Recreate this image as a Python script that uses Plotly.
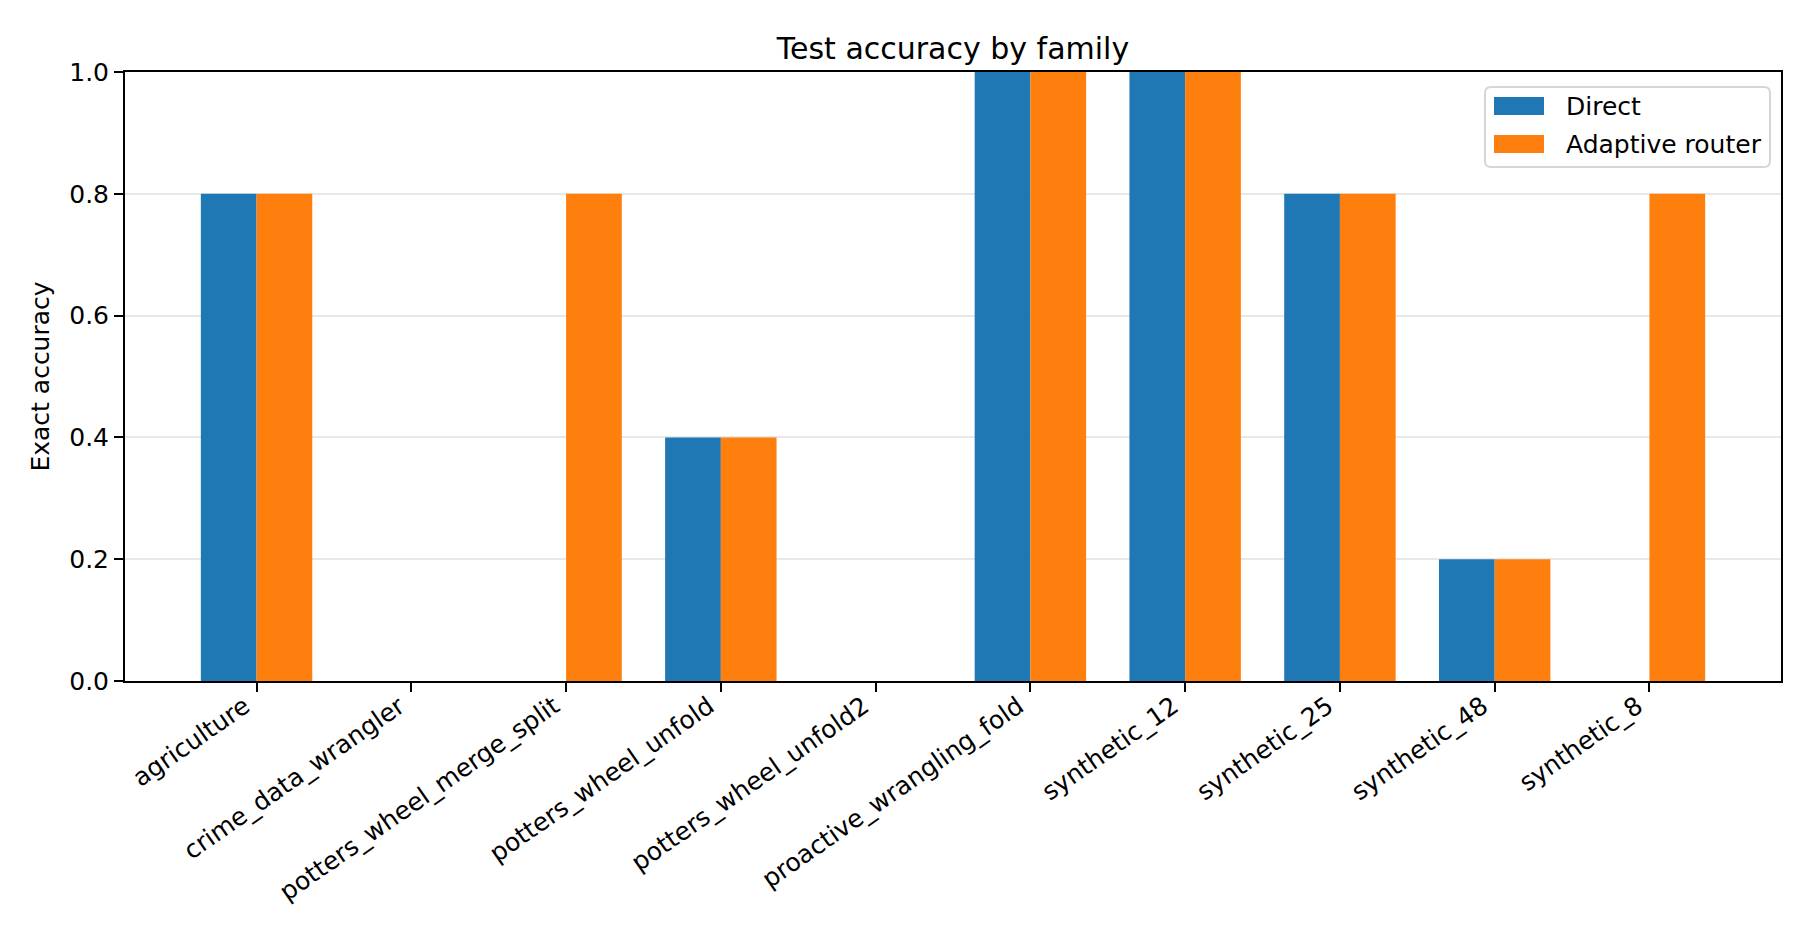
import plotly.graph_objects as go

families = ["agriculture", "crime_data_wrangler", "potters_wheel_merge_split",
            "potters_wheel_unfold", "potters_wheel_unfold2", "proactive_wrangling_fold",
            "synthetic_12", "synthetic_25", "synthetic_48", "synthetic_8"]
direct = [0.8, 0.0, 0.0, 0.4, 0.0, 1.0, 1.0, 0.8, 0.2, 0.0]
adaptive = [0.8, 0.0, 0.8, 0.4, 0.0, 1.0, 1.0, 0.8, 0.2, 0.8]
yticks = [0.0, 0.2, 0.4, 0.6, 0.8, 1.0]
series_names = ["Direct", "Adaptive router"]
series_colors = ["#1f77b4", "#ff7f0e"]

W, H = 1800, 936
L, R, T, B = 117, 27, 64, 263
PW, PH = W - L - R, H - T - B
FONT = "DejaVu Sans"


def px(x):
    return (x - L) / PW


def py(y):
    return (H - B - y) / PH


fig = go.Figure()
for name, vals, col in zip(series_names, [direct, adaptive], series_colors):
    fig.add_trace(go.Bar(x=families, y=vals, name=name, marker_color=col,
                         marker_line_width=0))

# legend (drawn manually to mimic wide rectangular patches)
shapes = []
x0, x1, y0, y1, rr = 1477, 1762, 79, 159, 6
path = (f"M {px(x0 + rr)},{py(y0)} L {px(x1 - rr)},{py(y0)} "
        f"Q {px(x1)},{py(y0)} {px(x1)},{py(y0 + rr)} L {px(x1)},{py(y1 - rr)} "
        f"Q {px(x1)},{py(y1)} {px(x1 - rr)},{py(y1)} L {px(x0 + rr)},{py(y1)} "
        f"Q {px(x0)},{py(y1)} {px(x0)},{py(y1 - rr)} L {px(x0)},{py(y0 + rr)} "
        f"Q {px(x0)},{py(y0)} {px(x0 + rr)},{py(y0)} Z")
shapes.append(dict(type="path", path=path, xref="paper", yref="paper",
                   line=dict(color="#d6d6d6", width=2), fillcolor="rgba(255,255,255,0.8)",
                   layer="above"))
annotations = []
for i, (name, col) in enumerate(zip(series_names, series_colors)):
    cy = 98 + i * 38
    shapes.append(dict(type="rect", xref="paper", yref="paper",
                       x0=px(1486), x1=px(1536), y0=py(cy - 9), y1=py(cy + 9),
                       fillcolor=col, line=dict(width=0), layer="above"))
    annotations.append(dict(text=name, xref="paper", yref="paper", x=px(1556), y=py(cy),
                            xanchor="left", yanchor="middle", showarrow=False,
                            font=dict(size=25, family=FONT, color="black")))

fig.update_layout(
    width=W, height=H,
    paper_bgcolor="white", plot_bgcolor="white",
    barmode="group", bargap=0.28, bargroupgap=0,
    margin=dict(l=L, r=R, t=T, b=B),
    font=dict(family=FONT, size=25, color="black"),
    title=dict(text="Test accuracy by family", x=0.5, xref="paper", xanchor="center",
               y=1 - 40 / H, yanchor="middle", font=dict(size=30)),
    showlegend=False,
    shapes=shapes,
    annotations=annotations,
)
fig.update_xaxes(
    range=[-0.85, 9.85], showline=True, linecolor="black", linewidth=2, mirror=True,
    ticks="outside", ticklen=9, tickwidth=2, tickcolor="black", tickangle=-35,
    ticklabelshift=-12, ticklabelstandoff=-10,
    showgrid=False, tickfont=dict(size=25),
)
fig.update_yaxes(
    range=[0, 1.0], showline=True, linecolor="black", linewidth=2, mirror=True,
    ticks="outside", ticklen=9, tickwidth=2, tickcolor="black",
    tickvals=yticks, ticktext=[f"{v:.1f}" for v in yticks],
    showgrid=True, gridcolor="#e8e8e8", gridwidth=1.5, zeroline=False,
    title=dict(text="Exact accuracy", font=dict(size=25), standoff=12),
    tickfont=dict(size=25),
)
fig.write_html("out.html")
